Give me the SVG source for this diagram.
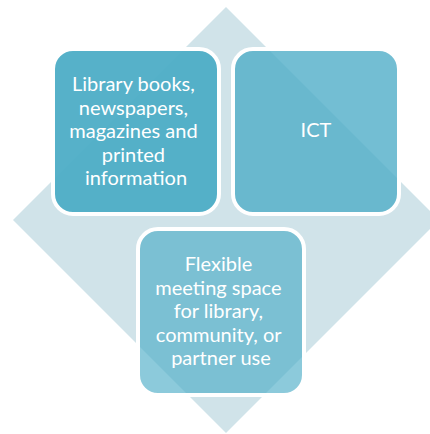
<svg xmlns="http://www.w3.org/2000/svg" width="430" height="434" viewBox="0 0 430 434">
  <style>
    .box { fill: #4BACC6; stroke: #FFFFFF; stroke-width: 4; }
    .label { font-family: Lato, "Open Sans", "Liberation Sans", sans-serif; font-size: 20px; fill: #FFFFFF; text-anchor: middle; }
  </style>
  <rect width="430" height="434" fill="#FFFFFF"/>
  <!-- background diamond -->
  <g id="backdrop">
    <polygon points="226,7 439,220 226,433 13,220" fill="#D0E3E9"/>
  </g>
  <g id="connectors"></g>
  <g id="node-print">
    <rect class="box" x="53" y="49" width="166" height="165" rx="20" fill-opacity="0.94"/>
    <text class="label" x="136">
      <tspan x="136" y="91">Library books,</tspan>
      <tspan x="136" y="114.5">newspapers,</tspan>
      <tspan x="136" y="138">magazines and</tspan>
      <tspan x="136" y="161.5">printed</tspan>
      <tspan x="136" y="185">information</tspan>
    </text>
  </g>
  <g id="node-ict">
    <rect class="box" x="233" y="49" width="166" height="165" rx="20" fill-opacity="0.78"/>
    <text class="label" x="316" y="137">ICT</text>
  </g>
  <g id="node-meeting">
    <rect class="box" x="138" y="229" width="166" height="166" rx="20" fill-opacity="0.64"/>
    <text class="label">
      <tspan x="221" y="271">Flexible</tspan>
      <tspan x="221" y="294.5">meeting space</tspan>
      <tspan x="221" y="318">for library,</tspan>
      <tspan x="221" y="341.5">community, or</tspan>
      <tspan x="221" y="365">partner use</tspan>
    </text>
  </g>
</svg>
